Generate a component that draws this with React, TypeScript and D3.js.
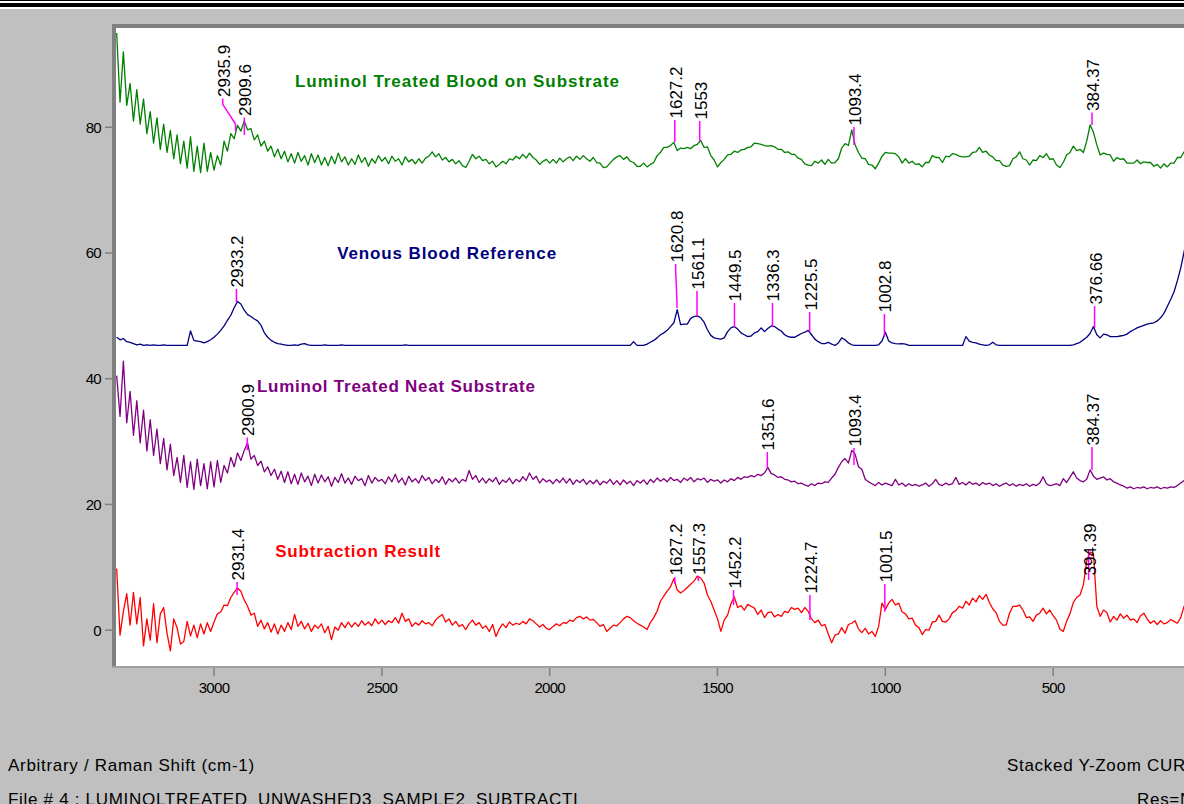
import React from 'react';
import * as d3 from 'd3';

// Sampling grid of the spectra (cm-1), 3290 down to 100 in 10 cm-1 steps
const WN_START = 3290;
const WN_STEP = 10;
const wavenumbers: number[] = d3.range(0, 320).map((i) => WN_START - i * WN_STEP);

const xTicks = [3000, 2500, 2000, 1500, 1000, 500];
const yTicks = [0, 20, 40, 60, 80];

// Luminol Treated Blood on Substrate
const bloodOnSubstrate = [
  95.0, 84.0, 92.0, 83.5, 87.0, 81.0, 86.0, 80.5, 84.5, 79.0,
  82.5, 77.5, 81.5, 76.5, 80.5, 76.0, 79.5, 75.0, 78.8, 74.2,
  77.8, 73.5, 78.5, 73.0, 77.0, 72.8, 77.5, 73.0, 76.0, 73.2,
  75.5, 74.0, 77.8, 76.2, 79.0, 78.2, 80.3, 79.4, 81.0, 79.6,
  79.8, 78.0, 78.8, 77.0, 77.8, 76.2, 77.0, 75.3, 76.5, 75.0,
  76.2, 74.5, 75.8, 74.3, 76.0, 74.6, 75.5, 74.0, 75.8, 74.4,
  75.6, 74.0, 75.2, 73.9, 75.4, 74.2, 75.9, 74.5, 75.3, 74.0,
  75.0, 74.1, 75.6, 74.4, 75.2, 73.8, 75.0, 74.3, 75.5, 74.6,
  75.2, 74.2, 75.4, 74.6, 75.0, 74.0, 75.3, 74.5, 74.9, 74.2,
  75.0, 74.3, 75.1, 75.4, 76.1, 75.3, 75.8, 74.8, 75.2, 74.5,
  74.9, 74.2, 74.7, 73.9, 73.6, 74.6, 75.7, 75.0, 75.4, 74.7,
  74.9, 74.2, 74.6, 73.7, 74.1, 74.6, 74.2, 75.0, 74.8, 75.4,
  75.0, 75.7, 75.1, 75.9, 75.2, 74.8, 74.1, 74.6, 74.9, 74.3,
  74.9, 74.3, 75.1, 74.5, 75.0, 75.3, 74.7, 75.4, 74.9, 75.5,
  75.0, 74.6, 75.2, 74.4, 74.3, 73.6, 73.7, 74.3, 74.9, 75.3,
  75.5, 74.9, 75.3, 74.6, 74.4, 73.8, 73.8, 74.3, 73.7, 74.1,
  74.4, 75.5, 76.0, 76.8, 76.8, 77.1, 77.6, 76.3, 76.7, 76.6,
  76.8, 76.6, 77.1, 77.3, 77.9, 76.8, 76.9, 75.5, 74.8, 73.7,
  74.4, 74.9, 75.6, 75.7, 76.2, 76.0, 76.4, 76.5, 76.8, 76.9,
  77.5, 77.4, 77.3, 77.1, 77.0, 77.1, 76.9, 76.5, 76.5, 76.0,
  76.1, 75.7, 75.7, 75.1, 74.9, 74.2, 74.0, 73.9, 74.6, 74.3,
  74.8, 74.1, 74.9, 74.3, 74.4, 75.0, 76.7, 77.4, 77.1, 79.6,
  77.2, 76.0, 75.1, 75.0, 74.1, 74.0, 73.4, 74.3, 75.4, 76.0,
  75.9, 75.9, 75.8, 75.3, 74.3, 75.0, 74.3, 74.6, 74.1, 74.2,
  73.7, 74.4, 74.4, 75.5, 75.2, 75.2, 74.4, 75.4, 75.3, 75.8,
  75.7, 75.4, 75.3, 75.3, 75.4, 76.0, 76.1, 76.8, 76.0, 76.2,
  75.6, 75.3, 74.7, 74.7, 74.0, 73.8, 73.9, 75.0, 75.3, 76.1,
  75.0, 74.8, 74.0, 74.8, 74.7, 75.5, 75.2, 75.8, 74.9, 75.0,
  74.0, 73.6, 74.4, 75.6, 76.0, 77.0, 76.3, 76.5, 76.0, 77.8,
  80.4, 79.2, 77.2, 75.6, 75.9, 75.7, 75.6, 74.6, 75.2, 74.9,
  75.0, 74.3, 74.3, 74.3, 74.8, 74.2, 74.5, 74.4, 74.4, 73.8,
  74.1, 73.5, 74.2, 73.7, 74.3, 74.3, 75.2, 75.2, 76.1, 76.0,
];

// Venous Blood Reference
const venousBlood = [
  46.6, 46.2, 46.4, 45.9, 45.8, 45.6, 45.4, 45.5, 45.3, 45.4,
  45.3, 45.4, 45.3, 45.3, 45.4, 45.3, 45.3, 45.3, 45.3, 45.3,
  45.3, 45.3, 47.6, 46.1, 46.0, 45.9, 45.7, 45.9, 46.2, 46.6,
  47.1, 47.7, 48.4, 49.3, 50.1, 51.3, 52.3, 51.9, 50.9, 50.2,
  49.9, 49.5, 49.2, 48.5, 47.3, 46.6, 46.1, 45.8, 45.6, 45.5,
  45.4, 45.3, 45.3, 45.4, 45.3, 45.5, 45.6, 45.4, 45.3, 45.3,
  45.3, 45.3, 45.4, 45.3, 45.3, 45.3, 45.3, 45.4, 45.3, 45.3,
  45.3, 45.3, 45.3, 45.3, 45.3, 45.3, 45.3, 45.3, 45.3, 45.3,
  45.3, 45.3, 45.3, 45.3, 45.3, 45.3, 45.4, 45.3, 45.3, 45.3,
  45.3, 45.3, 45.3, 45.3, 45.3, 45.3, 45.3, 45.3, 45.3, 45.3,
  45.3, 45.3, 45.3, 45.3, 45.3, 45.3, 45.3, 45.3, 45.3, 45.3,
  45.3, 45.3, 45.3, 45.3, 45.3, 45.3, 45.3, 45.3, 45.3, 45.3,
  45.3, 45.3, 45.3, 45.3, 45.3, 45.3, 45.3, 45.3, 45.3, 45.3,
  45.3, 45.3, 45.3, 45.3, 45.3, 45.3, 45.3, 45.3, 45.3, 45.3,
  45.3, 45.3, 45.3, 45.3, 45.3, 45.3, 45.3, 45.3, 45.3, 45.3,
  45.3, 45.3, 45.3, 45.3, 45.9, 45.3, 45.3, 45.3, 45.5, 45.8,
  46.1, 46.5, 47.0, 47.3, 47.7, 48.3, 48.9, 51.0, 48.6, 48.7,
  48.7, 49.6, 49.9, 50.0, 49.7, 49.0, 47.8, 46.9, 46.5, 46.4,
  46.3, 46.5, 47.5, 48.1, 48.3, 47.9, 47.3, 47.0, 46.7, 46.8,
  47.3, 47.5, 48.1, 47.5, 48.0, 48.4, 48.3, 47.9, 47.6, 47.0,
  46.7, 46.6, 46.6, 46.9, 47.2, 47.4, 47.7, 47.0, 46.3, 45.9,
  45.6, 45.6, 45.8, 45.5, 45.3, 45.7, 46.5, 46.2, 45.7, 45.4,
  45.3, 45.3, 45.3, 45.3, 45.3, 45.3, 45.3, 45.4, 46.0, 47.4,
  46.0, 45.7, 45.6, 45.55, 45.6, 45.5, 45.3, 45.3, 45.3, 45.3,
  45.3, 45.3, 45.3, 45.3, 45.3, 45.3, 45.3, 45.3, 45.3, 45.3,
  45.3, 45.3, 45.3, 46.7, 46.0, 45.8, 45.7, 45.5, 45.4, 45.3,
  45.4, 45.8, 45.4, 45.3, 45.3, 45.3, 45.3, 45.3, 45.3, 45.3,
  45.3, 45.3, 45.3, 45.3, 45.3, 45.3, 45.3, 45.3, 45.3, 45.3,
  45.3, 45.3, 45.3, 45.3, 45.3, 45.4, 45.6, 45.8, 46.2, 46.6,
  47.2, 48.3, 47.0, 46.5, 47.1, 47.0, 46.7, 46.7, 46.7, 46.8,
  46.9, 47.1, 47.5, 47.8, 48.1, 48.3, 48.5, 48.7, 48.8, 48.9,
  49.2, 49.7, 50.4, 51.5, 52.6, 53.8, 55.6, 57.6, 60.2, 63.0,
];

// Luminol Treated Neat Substrate
const neatSubstrate = [
  40.5, 34.0, 42.8, 33.0, 38.0, 31.0, 36.5, 29.8, 35.0, 28.5,
  33.5, 27.8, 32.0, 26.5, 30.5, 25.5, 29.6, 24.6, 27.5, 23.5,
  27.8, 22.7, 26.8, 22.4, 27.2, 23.0, 26.5, 22.5, 26.8, 22.8,
  27.0, 23.5, 26.2, 25.0, 27.5, 26.0, 28.2, 27.0, 28.6, 29.8,
  27.2, 27.8, 26.2, 26.9, 25.2, 26.0, 24.6, 25.6, 24.0, 25.3,
  23.5, 25.2, 23.3, 24.8, 23.2, 25.0, 23.6, 24.5, 23.0, 24.8,
  23.4, 24.7, 23.6, 24.4, 22.9, 24.3, 23.5, 24.9, 23.4, 24.2,
  23.2, 24.5, 23.8, 24.1, 23.0, 24.6, 23.4, 24.3, 23.7, 24.0,
  23.3, 24.4, 23.6, 24.8, 23.5, 24.2, 23.1, 24.5, 23.6, 24.1,
  23.4, 24.6, 23.8, 24.3, 23.3, 24.0, 23.5, 24.4, 23.2, 24.1,
  23.6, 24.2, 23.4, 24.0, 23.7, 25.4, 24.0, 24.6, 23.5, 24.2,
  23.4, 24.1, 23.6, 24.3, 23.2, 23.9, 23.5, 24.2, 23.3, 24.0,
  23.6, 24.4, 23.8, 25.0, 24.0, 24.5, 23.4, 24.1, 23.6, 23.9,
  23.3, 24.0, 23.5, 24.2, 23.4, 24.1, 23.2, 23.9, 23.5, 24.0,
  23.2, 23.8, 23.3, 23.9, 23.1, 23.7, 23.4, 24.0, 23.2, 23.8,
  23.1, 23.9, 23.3, 23.7, 23.0, 23.8, 23.4, 23.9, 23.2, 24.0,
  23.5, 24.2, 23.7, 24.1, 23.6, 24.3, 23.8, 24.0, 23.5, 24.2,
  23.8, 24.3, 23.6, 24.1, 23.9, 24.2, 23.5, 24.0, 23.7, 23.9,
  23.4, 23.9, 23.6, 24.1, 23.8, 24.3, 24.0, 24.4, 24.3, 24.6,
  24.4, 24.8, 24.6, 25.0, 25.9, 24.9, 24.7, 24.3, 24.4, 24.0,
  23.9, 23.6, 23.7, 23.3, 23.4, 23.1, 22.9, 23.3, 23.0, 23.4,
  23.3, 23.6, 23.5, 24.2, 24.8, 25.9, 26.8, 27.3, 26.6, 28.6,
  28.0, 26.0, 25.6, 24.0, 23.6, 23.3, 23.0, 23.5, 23.1, 23.4,
  23.2, 23.0, 24.0, 23.1, 23.4, 22.9, 23.3, 23.0, 23.2, 22.9,
  23.1, 23.4, 22.9, 23.3, 24.0, 23.2, 23.0, 23.4, 23.1, 23.3,
  24.3, 23.2, 23.5, 23.1, 23.6, 23.2, 23.4, 23.0, 23.5, 23.2,
  23.4, 23.0, 23.3, 22.9, 23.2, 23.4, 23.0, 23.3, 22.9, 23.2,
  23.0, 23.3, 22.9, 23.2, 23.0, 23.4, 24.4, 23.3, 23.0, 23.1,
  23.3, 23.0, 24.1, 23.5, 24.3, 25.2, 24.2, 23.8, 23.6, 24.0,
  25.5, 24.5, 24.0, 24.2, 24.4, 23.9, 24.1, 23.6, 23.4, 23.1,
  22.9, 22.6, 22.8, 22.5, 22.7, 22.6, 22.8, 22.5, 22.7, 22.6,
  22.8, 22.5, 22.7, 22.6, 22.8, 22.7, 23.0, 23.4, 23.8, 24.0,
];

// Subtraction Result
const subtraction = [
  9.8, -0.8, 3.0, 5.8, 0.8, 6.0, 1.0, 5.2, -2.5, 1.8,
  -1.6, 4.2, -2.0, 2.6, 3.6, -0.5, -3.3, 1.8, 0.4, -2.2,
  -1.8, 1.4, -0.9, 0.8, -1.2, 1.0, -0.6, 1.2, -0.2, 1.3,
  2.6, 2.9, 4.0, 3.9, 5.2, 6.0, 6.7, 6.2, 4.8, 3.8,
  2.4, 2.7, 0.6, 1.6, 0.2, 1.2, -0.3, 1.0, -0.6, 0.8,
  -0.2, 1.2, 0.1, 2.5, 0.6, 1.4, 0.2, 1.1, -0.2, 0.8,
  0.3, 1.0, -0.4, 0.6, -1.5, 0.5, 0.0, 1.2, 0.4, 1.3,
  0.5, 1.2, 0.6, 1.5, 0.8, 1.3, 0.7, 1.8, 1.0, 1.6,
  0.9, 1.5, 1.2, 2.0, 1.1, 2.7, 1.4, 1.8, 0.6, 1.2,
  0.8, 1.5, 1.0, 1.2, 0.7, 1.6, 2.1, 2.5, 1.3, 1.8,
  0.8, 1.4, 0.6, 0.9, 0.1, 1.0, 1.6, 0.8, 1.2, 0.3,
  0.7, -0.2, 0.9, -1.0, 0.2, 1.0, 0.4, 1.3, 0.8, 1.1,
  0.9, 1.4, 1.0, 1.8, 1.5, 1.0, 0.5, 0.9, 0.3, 0.1,
  0.6, 1.0, 0.7, 1.2, 1.1, 1.6, 1.4, 2.0, 2.2, 1.8,
  2.1, 1.6, 1.7, 1.2, 0.6, 0.9, -0.2, 0.3, 0.8, 0.7,
  1.2, 1.8, 2.2, 2.0, 1.5, 1.1, 0.8, 0.5, 0.1, 1.2,
  2.0, 3.0, 4.6, 5.4, 6.2, 6.9, 8.2, 6.4, 5.9, 6.3,
  6.8, 7.3, 7.8, 8.6, 8.3, 7.5, 5.6, 4.6, 3.2, 1.8,
  -0.2, 1.6, 2.4, 4.2, 5.3, 3.6, 3.9, 3.2, 4.1, 3.8,
  3.5, 2.5, 3.2, 2.0, 2.8, 2.9, 2.1, 2.5, 2.2, 3.0,
  2.8, 3.6, 3.3, 3.5, 2.8, 3.6, 3.0, 1.8, 1.2, 1.6,
  0.7, 0.9, -0.6, -2.0, -0.8, -0.6, 0.4, -0.5, 0.9, 1.1,
  1.5, 0.2, -0.4, 0.3, -0.6, -0.2, -1.0, 0.6, 4.3, 3.3,
  4.3, 4.9, 4.0, 4.3, 2.9, 2.6, 1.8, 1.9, 0.8, 0.4,
  -0.7, 0.1, 0.0, 1.3, 1.4, 2.4, 1.4, 1.3, 1.8, 2.8,
  3.1, 3.8, 3.5, 4.6, 4.0, 5.1, 4.5, 5.5, 4.9, 5.7,
  4.4, 3.4, 2.8, 1.4, 0.8, 0.8, 2.7, 3.8, 3.8, 4.0,
  3.2, 2.0, 2.1, 1.4, 2.4, 2.7, 3.5, 2.6, 3.2, 2.3,
  1.6, 0.2, -0.2, 1.4, 2.6, 4.4, 5.2, 5.6, 7.2, 11.0,
  12.4, 12.2, 3.8, 2.2, 3.2, 2.8, 1.3, 2.2, 1.6, 2.6,
  1.9, 2.4, 1.6, 1.8, 1.2, 2.3, 2.7, 1.8, 1.1, 1.5,
  0.9, 1.5, 1.0, 1.2, 1.7, 1.4, 1.1, 2.0, 3.8, 4.2,
];

// Peak annotations: wavenumber, marker line top/bottom (intensity units)
type Peak = { wn: number; top: number; bottom: number; labelWn?: number; textAt?: number };

const bloodPeaks: Peak[] = [
  { wn: 2935.9, top: 84.6, bottom: 79.4, labelWn: 2974 },
  { wn: 2909.6, top: 81.56, bottom: 78.78 },
  { wn: 1627.2, top: 81.16, bottom: 77.66 },
  { wn: 1553, top: 81.0, bottom: 77.66 },
  { wn: 1093.4, top: 80.05, bottom: 77.19 },
  { wn: 384.37, top: 82.36, bottom: 80.37 },
];
const venousPeaks: Peak[] = [
  { wn: 2933.2, top: 54.28, bottom: 52.22 },
  { wn: 1620.8, top: 58.25, bottom: 51.25, labelWn: 1624.7 },
  { wn: 1561.1, top: 53.97, bottom: 49.98 },
  { wn: 1449.5, top: 52.06, bottom: 48.23 },
  { wn: 1336.3, top: 52.06, bottom: 48.23 },
  { wn: 1225.5, top: 50.62, bottom: 47.44 },
  { wn: 1002.8, top: 50.3, bottom: 46.65 },
  { wn: 376.66, top: 51.58, bottom: 48.08 },
];
const neatPeaks: Peak[] = [
  { wn: 2900.9, top: 30.65, bottom: 28.66 },
  { wn: 1351.6, top: 28.35, bottom: 25.8 },
  { wn: 1093.4, top: 28.98, bottom: 26.28 },
  { wn: 384.37, top: 29.14, bottom: 25.48 },
];
const subtractionPeaks: Peak[] = [
  { wn: 2931.4, top: 7.66, bottom: 5.6 },
  { wn: 1627.2, top: 8.46, bottom: 7.35 },
  { wn: 1557.3, top: 8.54, bottom: 7.82 },
  { wn: 1452.2, top: 6.39, bottom: 4.0 },
  { wn: 1224.7, top: 5.6, bottom: 1.62 },
  { wn: 1001.5, top: 7.35, bottom: 2.94 },
  { wn: 394.39, top: 12.83, bottom: 7.98, textAt: 8.46 },
];

const seriesNames = [
  'Luminol Treated Blood on Substrate',
  'Venous Blood Reference',
  'Luminol Treated Neat Substrate',
  'Subtraction Result',
];
// title anchor (centre wavenumber, baseline intensity)
const titleWn = [2276, 2307, 2458, 2572];
const titleValue = [86.46, 59.0, 37.94, 11.59];

const FONT = "'Liberation Sans', Arial, Helvetica, sans-serif";

export default function App() {
  const W = 1184;
  const H = 804;
  const left = 116;
  const top = 28;
  const bottom = 666;

  const x = d3.scaleLinear().domain([3292, 0]).range([left, 1221]);
  const y = d3.scaleLinear().domain([-5.7, 95.8]).range([bottom, top]);

  const line = d3
    .line<number>()
    .x((_, i) => x(wavenumbers[i]))
    .y((d) => y(d));

  const colors = ['#008000', '#000080', '#800080', '#FF0000'];
  const titleWidths = [324, 219, 278, 165];
  const all = [bloodOnSubstrate, venousBlood, neatSubstrate, subtraction];
  const peaks = [bloodPeaks, venousPeaks, neatPeaks, subtractionPeaks];

  const fmt = (wn: number) => String(wn);

  return (
    <div style={{ position: 'absolute', left: 0, top: 0, width: W, height: H, overflow: 'hidden' }}>
      <svg width={W} height={H} style={{ display: 'block' }}>
        <defs>
          <clipPath id="plotClip">
            <rect x={left} y={top} width={W - left} height={bottom - top} />
          </clipPath>
        </defs>
        <rect x={0} y={0} width={W} height={H} fill="#C0C0C0" />
        {/* title bar lines */}
        <rect x={0} y={0} width={W} height={1} fill="#000" />
        <rect x={0} y={1} width={W} height={2} fill="#fff" />
        <rect x={0} y={3} width={W} height={4} fill="#000" />
        <rect x={0} y={7} width={W} height={2} fill="#fff" />

        {/* plot area */}
        <rect x={left} y={top} width={W - left} height={bottom - top} fill="#fff" />

        <g clipPath="url(#plotClip)">
          {all.map((vals, k) => (
            <path
              key={k}
              d={line(vals) || ''}
              fill="none"
              stroke={colors[k]}
              strokeWidth={1.3}
              strokeLinejoin="round"
            />
          ))}
        </g>

        {/* peak markers */}
        {peaks.map((list, k) =>
          list.map((p, j) => {
            const px = x(p.wn);
            const lx = x(p.labelWn ?? p.wn);
            const ty = y(p.top);
            const by = y(p.bottom);
            const d = p.labelWn
              ? `M${lx},${ty}L${lx},${ty + 6}L${px},${by - 7}L${px},${by}`
              : `M${px},${ty}L${px},${by}`;
            const textY = y(p.textAt ?? p.top) - 1.5;
            return (
              <g key={`${k}-${j}`}>
                <path d={d} fill="none" stroke="#FF00FF" strokeWidth={1.5} />
                <text
                  transform={`translate(${lx + 1.5},${textY}) rotate(-90)`}
                  fontFamily={FONT}
                  fontSize={17}
                  fill="#000"
                  dominantBaseline="central"
                  textAnchor="start"
                >
                  {fmt(p.wn)}
                </text>
              </g>
            );
          })
        )}

        {/* series titles */}
        {seriesNames.map((name, k) => (
          <text
            key={name}
            x={x(titleWn[k])}
            y={y(titleValue[k])}
            fontFamily={FONT}
            fontWeight="bold"
            fontSize={17}
            fill={colors[k]}
            textAnchor="middle"
            textLength={titleWidths[k]}
            lengthAdjust="spacing"
          >
            {name}
          </text>
        ))}

        {/* frame */}
        <rect x={left - 4} y={top - 4} width={W - left + 4} height={4} fill="#808080" />
        <rect x={left - 4} y={top - 4} width={4} height={bottom - top + 6} fill="#808080" />
        <rect x={left - 4} y={bottom} width={W - left + 4} height={2} fill="#A0A0A0" />

        {/* y axis ticks */}
        {yTicks.map((t) => (
          <g key={`y${t}`}>
            <line x1={105} x2={left - 4} y1={y(t)} y2={y(t)} stroke="#808080" strokeWidth={1.5} />
            <text
              x={101}
              y={y(t)}
              dy="0.36em"
              textAnchor="end"
              fontFamily={FONT}
              fontSize={15}
              letterSpacing={-0.7}
              fill="#000"
            >
              {t}
            </text>
          </g>
        ))}

        {/* x axis ticks */}
        {xTicks.map((t) => (
          <g key={`x${t}`}>
            <line x1={x(t)} x2={x(t)} y1={bottom + 2} y2={bottom + 10} stroke="#808080" strokeWidth={1.5} />
            <text
              x={x(t)}
              y={693}
              textAnchor="middle"
              fontFamily={FONT}
              fontSize={15}
              letterSpacing={-0.7}
              fill="#000"
            >
              {t}
            </text>
          </g>
        ))}

        {/* footer texts */}
        <text x={8} y={771} fontFamily={FONT} fontSize={17} letterSpacing={0.7} fill="#000">
          Arbitrary / Raman Shift (cm-1)
        </text>
        <text x={1007} y={771} fontFamily={FONT} fontSize={17} letterSpacing={0.7} fill="#000">
          Stacked Y-Zoom CURSOR
        </text>
        <text x={8} y={805} fontFamily={FONT} fontSize={17} letterSpacing={0.7} fill="#000">
          File # 4 : LUMINOLTREATED_UNWASHED3_SAMPLE2_SUBTRACTI
        </text>
        <text x={1137} y={805} fontFamily={FONT} fontSize={17} letterSpacing={0.7} fill="#000">
          Res=None
        </text>
      </svg>
    </div>
  );
}
